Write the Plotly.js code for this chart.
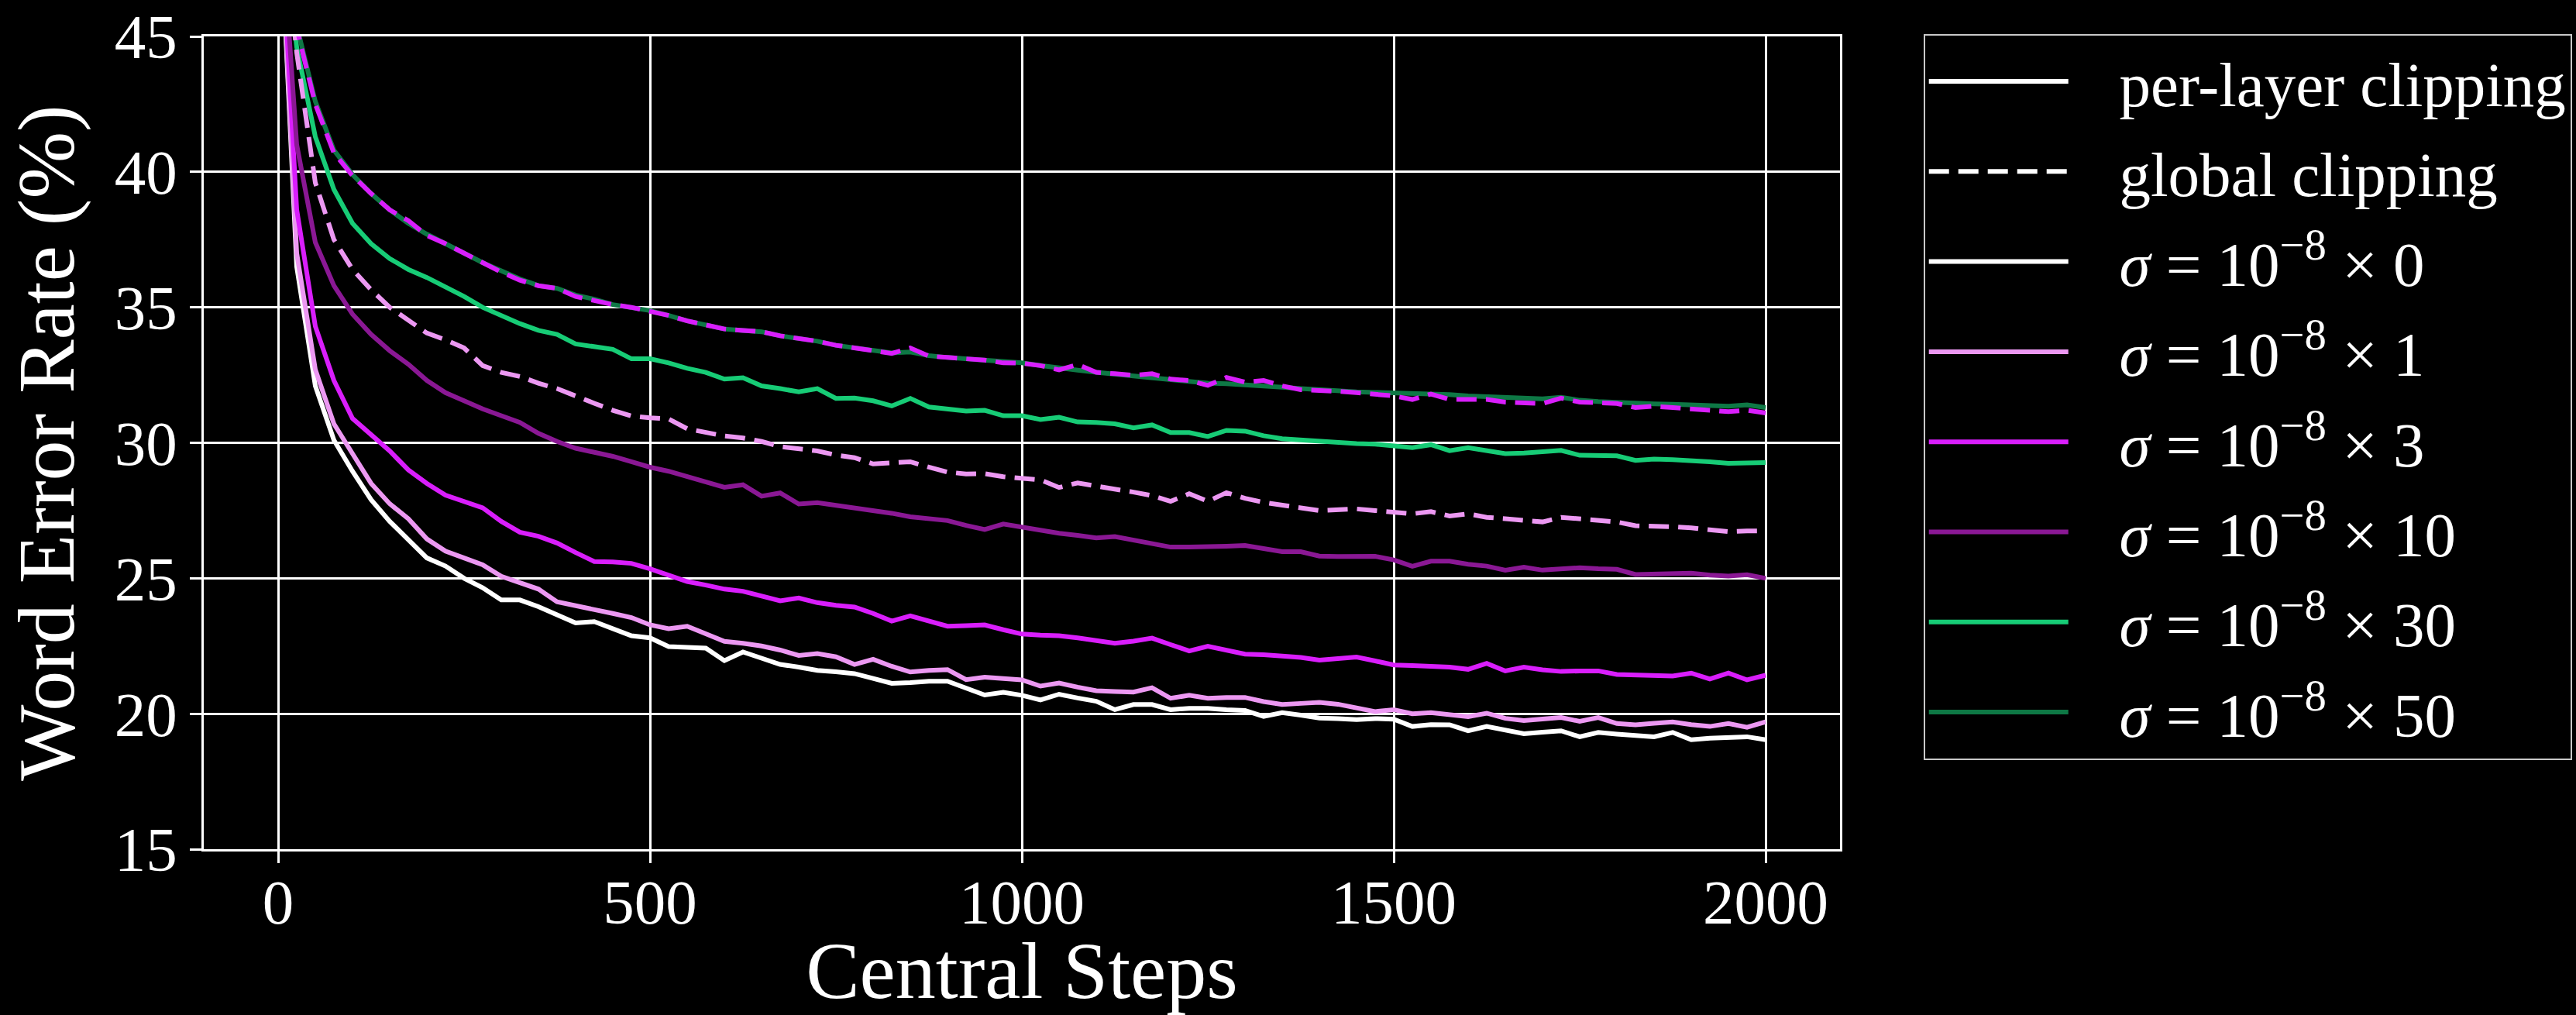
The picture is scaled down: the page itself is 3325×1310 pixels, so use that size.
<!DOCTYPE html>
<html>
<head>
<meta charset="utf-8">
<script src="https://cdn.plot.ly/plotly-3.0.1.min.js"></script>
<style>
html,body{margin:0;padding:0;background:#000;}
#chart{width:3325px;height:1310px;}
</style>
</head>
<body>
<div id="chart"></div>
<script>
// Central steps (x axis)
const steps = [
  0, 25, 50, 75, 100, 125, 150, 175, 200, 225,
  250, 275, 300, 325, 350, 375, 400, 425, 450, 475,
  500, 525, 550, 575, 600, 625, 650, 675, 700, 725,
  750, 775, 800, 825, 850, 875, 900, 925, 950, 975,
  1000, 1025, 1050, 1075, 1100, 1125, 1150, 1175, 1200, 1225,
  1250, 1275, 1300, 1325, 1350, 1375, 1400, 1425, 1450, 1475,
  1500, 1525, 1550, 1575, 1600, 1625, 1650, 1675, 1700, 1725,
  1750, 1775, 1800, 1825, 1850, 1875, 1900, 1925, 1950, 1975,
  2000
];

// per-layer clipping, sigma = 1e-8 x 0
const perLayer_s0 = [
  51, 36.5, 32.1, 30.1, 28.95, 27.9, 27.1, 26.45, 25.75, 25.45,
  25.0, 24.65, 24.2, 24.2, 23.95, 23.65, 23.35, 23.4, 23.12, 22.88,
  22.8, 22.48, 22.45, 22.42, 21.96, 22.28, 22.05, 21.82, 21.72, 21.6,
  21.55, 21.48, 21.3, 21.12, 21.15, 21.2, 21.2, 20.95, 20.69, 20.79,
  20.68, 20.51, 20.72, 20.58, 20.46, 20.15, 20.34, 20.34, 20.15, 20.2,
  20.2, 20.15, 20.12, 19.9, 20.04, 19.95, 19.84, 19.82, 19.78, 19.82,
  19.8, 19.53, 19.6, 19.59, 19.37, 19.53, 19.4, 19.26, 19.32, 19.37,
  19.15, 19.31, 19.25, 19.2, 19.15, 19.31, 19.04, 19.1, 19.12, 19.15,
  19.04
];
// per-layer clipping, sigma = 1e-8 x 1
const perLayer_s1 = [
  51, 37.0, 32.7, 30.7, 29.6, 28.5, 27.75, 27.2, 26.45, 26.0,
  25.75, 25.5, 25.07, 24.85, 24.6, 24.13, 24.0, 23.84, 23.7, 23.55,
  23.28, 23.14, 23.23, 22.95, 22.67, 22.6, 22.5, 22.35, 22.15, 22.22,
  22.1, 21.82, 22.01, 21.75, 21.54, 21.6, 21.63, 21.26, 21.35, 21.3,
  21.25, 21.02, 21.13, 20.98, 20.85, 20.82, 20.8, 20.96, 20.57, 20.68,
  20.57, 20.6, 20.6, 20.45, 20.34, 20.38, 20.42, 20.35, 20.2, 20.08,
  20.15, 20.0, 20.04, 19.95, 19.89, 20.02, 19.83, 19.75, 19.82, 19.86,
  19.72, 19.86, 19.64, 19.59, 19.65, 19.7, 19.6, 19.53, 19.64, 19.5,
  19.7
];
// per-layer clipping, sigma = 1e-8 x 3
const perLayer_s3 = [
  51, 38.6, 34.3, 32.3, 30.9, 30.3, 29.7, 29.0, 28.5, 28.07,
  27.85, 27.6, 27.1, 26.7, 26.55, 26.3, 25.95, 25.62, 25.6, 25.55,
  25.35, 25.1, 24.88, 24.75, 24.6, 24.52, 24.35, 24.17, 24.27, 24.1,
  24.0, 23.94, 23.7, 23.42, 23.61, 23.4, 23.23, 23.25, 23.28, 23.1,
  22.94, 22.9, 22.88, 22.8, 22.72, 22.6, 22.68, 22.79, 22.55, 22.32,
  22.49, 22.35, 22.2, 22.18, 22.15, 22.08, 21.98, 22.02, 22.09, 21.95,
  21.8, 21.78, 21.77, 21.72, 21.64, 21.86, 21.58, 21.72, 21.62, 21.56,
  21.58, 21.58, 21.45, 21.43, 21.42, 21.39, 21.5, 21.28, 21.5, 21.25,
  21.42
];
// per-layer clipping, sigma = 1e-8 x 10
const perLayer_s10 = [
  51, 41.0, 37.4, 35.8, 34.75, 34.0, 33.4, 32.9, 32.3, 31.85,
  31.55, 31.25, 31.0, 30.75, 30.35, 30.05, 29.8, 29.67, 29.5, 29.3,
  29.1, 28.95, 28.75, 28.55, 28.36, 28.45, 28.03, 28.15, 27.74, 27.79,
  27.7, 27.6, 27.5, 27.4, 27.27, 27.2, 27.13, 26.95, 26.8, 27.0,
  26.88, 26.78, 26.66, 26.58, 26.49, 26.54, 26.4, 26.25, 26.15, 26.15,
  26.15, 26.18, 26.21, 26.1, 25.98, 25.98, 25.82, 25.8, 25.8, 25.81,
  25.68, 25.44, 25.63, 25.63, 25.52, 25.45, 25.3, 25.41, 25.3, 25.36,
  25.39, 25.35, 25.33, 25.14, 25.17, 25.18, 25.19, 25.12, 25.08, 25.13,
  25.0
];
// per-layer clipping, sigma = 1e-8 x 30
const perLayer_s30 = [
  51, 44.6, 41.3, 39.35, 38.1, 37.35, 36.8, 36.4, 36.1, 35.75,
  35.4, 35.0, 34.7, 34.4, 34.15, 34.0, 33.65, 33.55, 33.45, 33.1,
  33.1, 32.95, 32.75, 32.6, 32.35, 32.4, 32.1, 32.0, 31.88, 32.0,
  31.64, 31.65, 31.55, 31.36, 31.64, 31.32, 31.25, 31.17, 31.2, 31.0,
  31.0, 30.86, 30.94, 30.77, 30.75, 30.7, 30.55, 30.66, 30.38, 30.38,
  30.23, 30.46, 30.43, 30.26, 30.15, 30.1, 30.07, 29.98, 29.97, 29.95,
  29.87, 29.82, 29.93, 29.71, 29.82, 29.72, 29.6, 29.62, 29.65, 29.72,
  29.54, 29.53, 29.52, 29.35, 29.4, 29.38, 29.36, 29.3, 29.24, 29.26,
  29.27
];
// per-layer clipping, sigma = 1e-8 x 50
const perLayer_s50 = [
  51, 45.4, 42.6, 40.8, 39.9, 39.2, 38.6, 38.1, 37.7, 37.35,
  37.0, 36.65, 36.35, 36.05, 35.8, 35.7, 35.45, 35.3, 35.1, 35.0,
  34.88, 34.7, 34.5, 34.35, 34.2, 34.15, 34.1, 33.95, 33.85, 33.75,
  33.6, 33.5, 33.4, 33.32, 33.35, 33.22, 33.15, 33.1, 33.05, 32.98,
  32.95, 32.85, 32.75, 32.68, 32.6, 32.53, 32.45, 32.4, 32.33, 32.27,
  32.2, 32.18, 32.15, 32.1, 32.05, 32.0, 31.95, 31.92, 31.88, 31.86,
  31.84, 31.83, 31.83, 31.78, 31.73, 31.7, 31.68, 31.65, 31.62, 31.68,
  31.57, 31.52, 31.48, 31.46, 31.44, 31.42, 31.4, 31.38, 31.35, 31.4,
  31.3
];
// global clipping, sigma = 1e-8 x 1
const global_s1 = [
  51, 44.4, 39.6, 37.5, 36.4, 35.65, 35.0, 34.5, 34.05, 33.8,
  33.5, 32.85, 32.6, 32.45, 32.2, 32.0, 31.75, 31.46, 31.2, 30.99,
  30.92, 30.88, 30.52, 30.4, 30.25, 30.18, 30.05, 29.86, 29.78, 29.7,
  29.55, 29.45, 29.22, 29.25, 29.3, 29.1, 28.92, 28.85, 28.86, 28.75,
  28.69, 28.63, 28.35, 28.52, 28.4, 28.3, 28.18, 28.05, 27.84, 28.12,
  27.84, 28.16, 27.95, 27.8, 27.68, 27.6, 27.5, 27.52, 27.56, 27.5,
  27.45, 27.38, 27.46, 27.3, 27.38, 27.25, 27.2, 27.12, 27.08, 27.25,
  27.2, 27.14, 27.08, 26.94, 26.93, 26.9, 26.86, 26.8, 26.72, 26.75,
  26.75
];
// global clipping, sigma = 1e-8 x 3
const global_s3 = [
  51, 45.3, 42.5, 40.7, 39.86, 39.2, 38.6, 38.2, 37.65, 37.35,
  37.0, 36.65, 36.3, 36.0, 35.8, 35.7, 35.4, 35.25, 35.1, 35.0,
  34.85, 34.7, 34.5, 34.35, 34.2, 34.15, 34.1, 33.95, 33.85, 33.75,
  33.6, 33.5, 33.4, 33.3, 33.5, 33.2, 33.15, 33.1, 33.05, 32.95,
  32.94, 32.85, 32.69, 32.89, 32.6, 32.55, 32.49, 32.55, 32.35, 32.3,
  32.12, 32.41, 32.24, 32.3, 32.1, 31.96, 31.95, 31.9, 31.85, 31.8,
  31.73, 31.6, 31.8, 31.6, 31.62, 31.6, 31.5, 31.48, 31.45, 31.65,
  31.5, 31.48, 31.45, 31.3, 31.35, 31.3, 31.25, 31.2, 31.15, 31.2,
  31.1
];

const xTicks = [0, 500, 1000, 1500, 2000];
const yTicks = [15, 20, 25, 30, 35, 40, 45];
const legendNames = [
  "per-layer clipping",
  "global clipping",
  "<i>σ</i> = 10<sup>−8</sup> × 0",
  "<i>σ</i> = 10<sup>−8</sup> × 1",
  "<i>σ</i> = 10<sup>−8</sup> × 3",
  "<i>σ</i> = 10<sup>−8</sup> × 10",
  "<i>σ</i> = 10<sup>−8</sup> × 30",
  "<i>σ</i> = 10<sup>−8</sup> × 50"
];

const colors = {
  s0: "#ffffff",
  s1: "#ec98f2",
  s3: "#d91efc",
  s10: "#8a1894",
  s30: "#17cc76",
  s50: "#0e7845"
};
const LW = 6;
const DASH = "26px,12px";
const PAD = "&nbsp;&nbsp;&nbsp;";

function lab(i) { return PAD + legendNames[i]; }

const traces = [
  {x: [null], y: [null], mode: "lines", name: lab(0), legendgroup: "g0", line: {color: "#ffffff", width: LW}, showlegend: true},
  {x: [null], y: [null], mode: "lines", name: lab(1), legendgroup: "g1", line: {color: "#ffffff", width: LW, dash: DASH}, showlegend: true},
  {x: steps, y: perLayer_s0, mode: "lines", name: lab(2), legendgroup: "g2", line: {color: colors.s0, width: LW}},
  {x: steps, y: perLayer_s1, mode: "lines", name: lab(3), legendgroup: "g3", line: {color: colors.s1, width: LW}},
  {x: steps, y: perLayer_s3, mode: "lines", name: lab(4), legendgroup: "g4", line: {color: colors.s3, width: LW}},
  {x: steps, y: perLayer_s10, mode: "lines", name: lab(5), legendgroup: "g5", line: {color: colors.s10, width: LW}},
  {x: steps, y: perLayer_s30, mode: "lines", name: lab(6), legendgroup: "g6", line: {color: colors.s30, width: LW}},
  {x: steps, y: perLayer_s50, mode: "lines", name: lab(7), legendgroup: "g7", line: {color: colors.s50, width: LW}},
  {x: steps, y: global_s1, mode: "lines", name: "global σ1", legendgroup: "g8", showlegend: false, line: {color: colors.s1, width: LW, dash: DASH}},
  {x: steps, y: global_s3, mode: "lines", name: "global σ3", legendgroup: "g9", showlegend: false, line: {color: colors.s3, width: LW, dash: DASH}}
];

const FONT = "Liberation Serif, Times New Roman, serif";

const layout = {
  width: 3325,
  height: 1310,
  paper_bgcolor: "#000000",
  plot_bgcolor: "#000000",
  font: {family: FONT, color: "#ffffff", size: 81},
  margin: {l: 263, r: 950, t: 47, b: 214, pad: 0, autoexpand: false},
  showlegend: true,
  xaxis: {
    range: [-100, 2100],
    tickvals: xTicks,
    ticktext: xTicks.map(String),
    ticks: "outside",
    ticklen: 15,
    tickwidth: 3,
    tickcolor: "#ffffff",
    ticklabelstandoff: -19,
    showgrid: true,
    gridcolor: "#ffffff",
    gridwidth: 3,
    showline: true,
    linecolor: "#ffffff",
    linewidth: 3,
    mirror: true,
    zeroline: false,
    tickfont: {family: FONT, size: 81, color: "#ffffff"},
    title: {text: "Central Steps", font: {family: FONT, size: 104, color: "#ffffff"}, standoff: 50},
    automargin: false
  },
  yaxis: {
    range: [15, 45],
    tickvals: yTicks,
    ticktext: yTicks.map(String),
    ticks: "outside",
    ticklen: 15,
    tickwidth: 3,
    tickcolor: "#ffffff",
    showgrid: true,
    gridcolor: "#ffffff",
    gridwidth: 3,
    showline: true,
    linecolor: "#ffffff",
    linewidth: 3,
    mirror: true,
    zeroline: false,
    tickfont: {family: FONT, size: 81, color: "#ffffff"},
    title: {text: "Word Error Rate (%)", font: {family: FONT, size: 104, color: "#ffffff"}, standoff: 18},
    automargin: false
  },
  legend: {
    x: 1.051,
    y: 1.003,
    xanchor: "left",
    yanchor: "top",
    bgcolor: "#000000",
    bordercolor: "#c8c8c8",
    borderwidth: 2,
    font: {family: FONT, size: 81, color: "#ffffff"},
    itemwidth: 180,
    traceorder: "grouped",
    tracegroupgap: 8,
    maxheight: 1300
  }
};

Plotly.newPlot("chart", traces, layout, {staticPlot: true, displayModeBar: false});
</script>
</body>
</html>
